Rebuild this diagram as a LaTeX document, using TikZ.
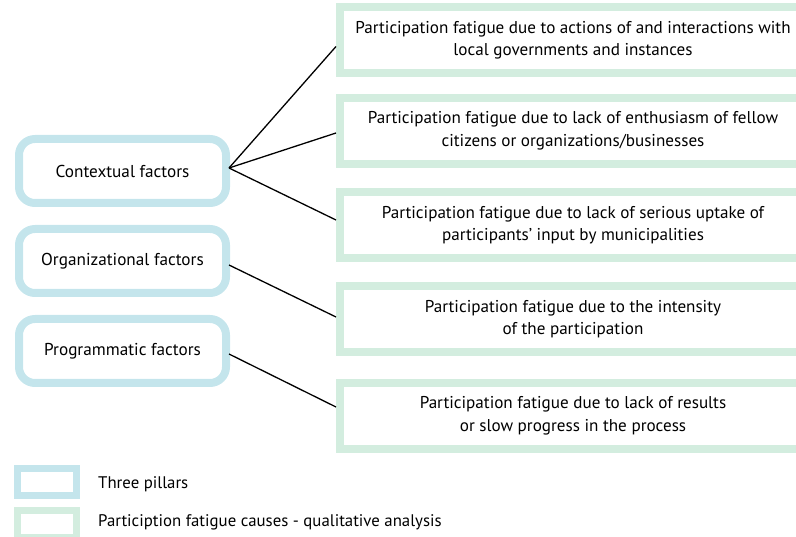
\documentclass[tikz,border=0pt]{standalone}
\usepackage{fontspec}
\setmainfont{PT Sans}
\usetikzlibrary{calc}
\definecolor{pillarblue}{HTML}{C4E5EC}
\definecolor{causegreen}{HTML}{D3EDDF}
\tikzset{
  pillar/.style={draw=pillarblue, line width=8pt, rounded corners=16pt, minimum width=207pt, minimum height=64pt, inner sep=0pt, outer sep=0pt, font=\fontsize{17.2}{22}\selectfont},
  cause/.style={draw=causegreen, line width=8pt, minimum width=466pt, minimum height=66pt, inner sep=0pt, outer sep=0pt, align=center, font=\fontsize{17.1}{22.5}\selectfont},
  legbox/.style={draw=#1, line width=7pt, minimum width=59pt, minimum height=27pt, inner sep=0pt, outer sep=0pt},
  legtext/.style={anchor=west, inner sep=0pt, font=\fontsize{16.8}{20}\selectfont},
  link/.style={draw=black, line width=1.3pt}
}
\begin{document}
\begin{tikzpicture}[x=1pt,y=-1pt]
\useasboundingbox (0,0) rectangle (796,537);
\node[pillar] (ctx) at (122.5,171) {Contextual factors};
\node[pillar] (org) at (122.5,261) {Organizational factors};
\node[pillar] (prg) at (122.5,351) {Programmatic factors};
\node[cause] (c1) at (573,40.5) {Participation fatigue due to actions of and interactions with\\local governments and instances};
\node[cause] (c2) at (573,131) {Participation fatigue due to lack of enthusiasm of fellow\\citizens or organizations/businesses};
\node[cause] (c3) at (573,225) {Participation fatigue due to lack of serious uptake of\\participants' input by municipalities};
\node[cause] (c4) at (573,319) {Participation fatigue due to the intensity\\of the participation};
\node[cause] (c5) at (573,416) {Participation fatigue due to lack of results\\or slow progress in the process};
\draw[link] ([xshift=3pt,yshift=3pt]ctx.east) -- ([xshift=-4pt,yshift=-6pt]c1.west);
\draw[link] ([xshift=3pt,yshift=3pt]ctx.east) -- ([xshift=-4pt,yshift=-2pt]c2.west);
\draw[link] ([xshift=3pt,yshift=3pt]ctx.east) -- ([xshift=-4pt,yshift=5pt]c3.west);
\draw[link] ([xshift=3pt,yshift=-4pt]org.east) -- ([xshift=-4pt,yshift=2pt]c4.west);
\draw[link] ([xshift=3pt,yshift=-3pt]prg.east) -- ([xshift=-4pt,yshift=9pt]c5.west);
\node[legbox=pillarblue] (lg1) at (47,482) {};
\node[legbox=causegreen] (lg2) at (47,523.5) {};
\node[legtext] (lt1) at (98,484) {Three pillars};
\node[legtext] (lt2) at (98,522) {Particiption fatigue causes - qualitative analysis};
\end{tikzpicture}
\end{document}
